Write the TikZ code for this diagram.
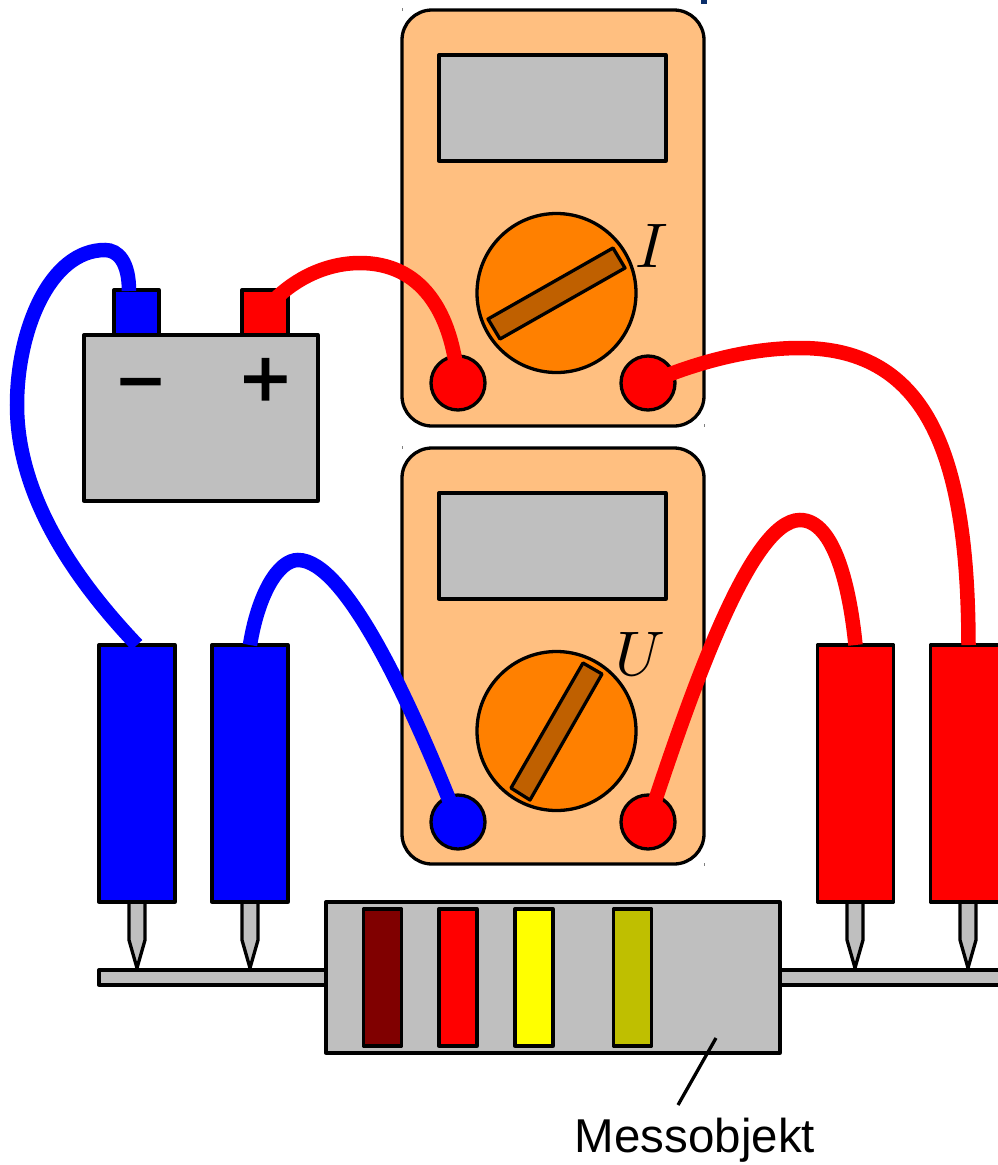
\documentclass[tikz,border=0pt]{standalone}
\usepackage{fontspec}
\setmainfont{Liberation Sans}
\newfontfamily\plusfont[FakeBold=2]{Liberation Sans}
\newfontfamily\minusfont[FakeBold=4.5]{Liberation Sans}
\definecolor{meterbody}{HTML}{FFBF80}
\definecolor{dialc}{HTML}{FF8000}
\definecolor{pointerc}{HTML}{BF6000}
\definecolor{greyc}{HTML}{BFBFBF}
\definecolor{maroonc}{HTML}{800000}
\definecolor{olivec}{HTML}{BFBF00}
\definecolor{yellowc}{HTML}{FFFF00}
\definecolor{navyc}{HTML}{0B2F6B}
\tikzset{
  every node/.style={outer sep=0pt,inner sep=0pt},
  part/.style={draw=black,line width=3.3pt,line join=round},
  box/.style={part,rectangle,minimum width=#1},
  hh/.style={minimum height=#1},
  body/.style={part,rectangle,rounded corners=30pt,fill=meterbody,minimum width=302pt,minimum height=416pt},
  display/.style={part,rectangle,fill=greyc,minimum width=227pt,minimum height=106pt},
  dial/.style={part,circle,fill=dialc,minimum size=159pt},
  socket/.style={part,circle,minimum size=54pt},
  needle/.style={part,fill=pointerc},
  cable/.style={line width=14.5pt,line cap=butt},
  probe/.style={part,rectangle,minimum width=76pt,minimum height=257pt},
  band/.style={part,rectangle,minimum width=38pt,minimum height=137pt},
  tip/.style={part,fill=greyc},
  tick/.style={draw=gray,line width=1pt},
  mathlab/.style={scale=6.3}
}
\begin{document}
\begin{tikzpicture}[x=1pt,y=-1pt]
\useasboundingbox (0,0) rectangle (998,1165);
\clip (0,0) rectangle (998,1165);
% small marks along the top
\fill[navyc] (701,0) rectangle (707,4);
\draw[tick] (402,8) -- (402,11);
\draw[tick] (704,424) -- (704,427);
\draw[tick] (402,446) -- (402,449);
\draw[tick] (704,863) -- (704,866);
% upper meter
\node[body] (meterA) at (553,218) {};
\node[display] (dispA) at (552.5,108) {};
\node[dial] (dialA) at (556.5,293) {};
\draw[needle] (488,319) -- (613,248) -- (625,268) -- (500,339) -- cycle;
\node[mathlab] (labI) at (652,245.5) {$I$};
\node[socket,fill=red] (sA1) at (458,383) {};
\node[socket,fill=red] (sA2) at (648,383) {};
% lower meter
\node[body] (meterB) at (553,656) {};
\node[display] (dispB) at (552.5,546) {};
\node[dial] (dialB) at (556.5,731) {};
\draw[needle] (583,663) -- (602,674) -- (530,800) -- (511,788) -- cycle;
\node[mathlab] (labU) at (640,653.5) {$U$};
\node[socket,fill=blue] (sB1) at (458,822) {};
\node[socket,fill=red] (sB2) at (648,822) {};
% battery
\node[box=45pt,hh=45pt,fill=blue] (tMinus) at (136.5,312.5) {};
\node[box=46pt,hh=45pt,fill=red] (tPlus) at (265,312.5) {};
\node[box=234pt,hh=166pt,fill=greyc] (batt) at (201,418) {};
\node[font=\minusfont\fontsize{67}{70}\selectfont] (minus) at (140.5,389) {–};
\node[font=\plusfont\fontsize{84}{90}\selectfont] (plus) at (265.5,383) {+};
\coordinate (cMinus) at (129,291);
\coordinate (cPlus) at (265,310);
% measured object
\node[box=227pt,hh=15pt,fill=greyc] (rodL) at (212.5,977.5) {};
\node[box=240pt,hh=15pt,fill=greyc] (rodR) at (900,977.5) {};
\node[box=454pt,hh=151pt,fill=greyc] (obj) at (553,977.5) {};
\node[band,fill=maroonc] (b1) at (382.5,977.5) {};
\node[band,fill=red] (b2) at (458,977.5) {};
\node[band,fill=yellowc] (b3) at (534,977.5) {};
\node[band,fill=olivec] (b4) at (632.5,977.5) {};
\coordinate (lead) at (716,1038);
\node[font=\fontsize{47.5}{52}\selectfont,anchor=base] (mess) at (695,1152) {Messobjekt};
\coordinate (messTop) at (678,1105);
\draw[line width=3.3pt] (lead) -- (messTop);
% probes
\foreach \cx in {137,250,855,968}{
  \draw[tip] (\cx-8,902) -- (\cx-8,940) -- (\cx,968) -- (\cx+8,940) -- (\cx+8,902) -- cycle;
}
\node[probe,fill=blue] (p1) at (137,773.5) {};
\node[probe,fill=blue] (p2) at (250,773.5) {};
\node[probe,fill=red] (p3) at (855.5,773.5) {};
\node[probe,fill=red] (p4) at (968.5,773.5) {};
% cables
\draw[cable,blue] (cMinus) .. controls (129,262) and (118,250) .. (105,250)
  .. controls (50,250) and (17,330) .. (17,405)
  .. controls (17,500) and (80,585) .. (p1.north);
\draw[cable,blue] (p2.north) .. controls (258,595) and (278,560) .. (298,560)
  .. controls (345,560) and (410,700) .. (sB1.center);
\draw[cable,red] (cPlus) .. controls (290,280) and (325,263) .. (360,263)
  .. controls (420,263) and (452,310) .. (sA1.center);
\draw[cable,red] (sA2.center) .. controls (690,365) and (745,348) .. (800,348)
  .. controls (930,348) and (968,460) .. (p4.north);
\draw[cable,red] (sB2.center) .. controls (690,695) and (750,520) .. (800,520)
  .. controls (835,520) and (850,590) .. (p3.north);
\end{tikzpicture}
\end{document}
